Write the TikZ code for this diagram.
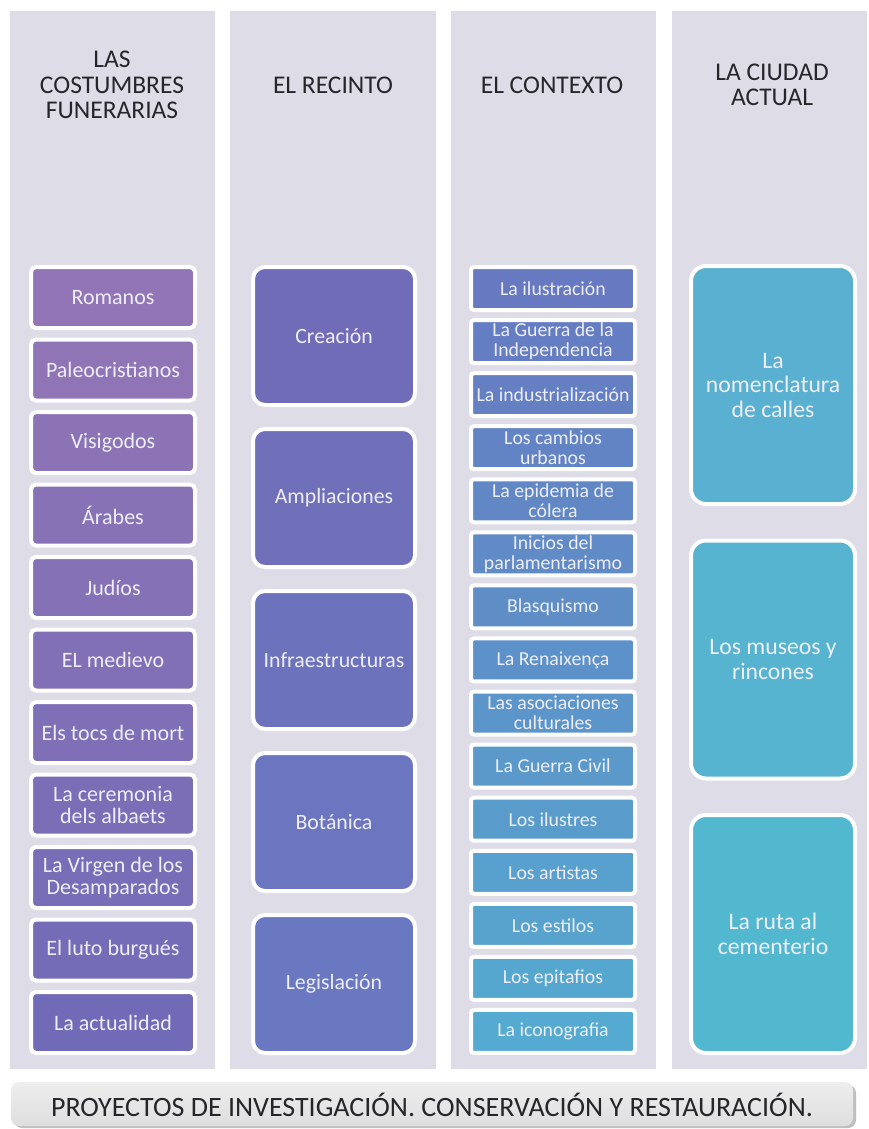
\documentclass[tikz,border=0pt]{standalone}
\usepackage{fontspec}
\setmainfont{Carlito}
\usetikzlibrary{positioning}

\definecolor{colbg}{RGB}{222,220,231}
\definecolor{boxtext}{RGB}{238,238,246}
\definecolor{headtext}{RGB}{38,38,42}
\definecolor{purA}{RGB}{146,117,182}
\definecolor{purB}{RGB}{113,107,183}
\definecolor{recA}{RGB}{112,108,184}
\definecolor{recB}{RGB}{106,120,193}
\definecolor{ctxA}{RGB}{103,121,193}
\definecolor{ctxB}{RGB}{84,170,208}
\definecolor{ciuA}{RGB}{89,176,208}
\definecolor{ciuB}{RGB}{82,184,208}
\definecolor{barTop}{RGB}{238,238,238}
\definecolor{barBot}{RGB}{222,222,222}

\begin{document}
\begin{tikzpicture}[x=1pt,y=-1pt,
    column/.style={fill=colbg,draw=none},
    head/.style={font=\fontsize{25.5}{25.5}\selectfont,align=center,text=headtext},
    item/.style={draw=white,line width=4pt,align=center,text=boxtext,inner sep=0pt},
    cosbox/.style={item,rounded corners=5pt,minimum width=164,minimum height=61,
      font=\fontsize{22}{22.5}\selectfont},
    recbox/.style={item,rounded corners=12pt,minimum width=162,minimum height=138,
      font=\fontsize{21.8}{23}\selectfont},
    ctxbox/.style={item,rounded corners=3pt,minimum width=164,minimum height=43,
      font=\fontsize{19.8}{20}\selectfont},
    ciubox/.style={item,rounded corners=15pt,minimum width=164,minimum height=238,
      font=\fontsize{23.7}{24.5}\selectfont}]
  \useasboundingbox (0,0) rectangle (869,1129);
  \fill[white] (0,0) rectangle (869,1129);

  % background columns
  \fill[column] (10,11) rectangle (215,1069);
  \fill[column] (230,11) rectangle (436,1069);
  \fill[column] (451,11) rectangle (656,1069);
  \fill[column] (672,11) rectangle (867,1069);

  % column titles
  \node[head] (hcos) at (112,85) {LAS\\COSTUMBRES\\FUNERARIAS};
  \node[head] (hrec) at (333,85) {EL RECINTO};
  \node[head] (hctx) at (552,85) {EL CONTEXTO};
  \node[head] (hciu) at (772,85) {LA CIUDAD\\ACTUAL};

  % las costumbres funerarias
  \foreach \txt [count=\i from 0] in {Romanos,Paleocristianos,Visigodos,Árabes,Judíos,
      EL medievo,Els tocs de mort,{La ceremonia\\dels albaets},{La Virgen de los\\Desamparados},
      El luto burgués,La actualidad}{
    \pgfmathtruncatemacro{\p}{100-10*\i}
    \node[cosbox,fill=purA!\p!purB] (cos\i) at (113,297.5+72.5*\i) {\txt};
  }

  % el recinto
  \foreach \txt [count=\i from 0] in {Creación,Ampliaciones,Infraestructuras,Botánica,Legislación}{
    \pgfmathtruncatemacro{\p}{100-25*\i}
    \node[recbox,fill=recA!\p!recB] (rec\i) at (334,336+162*\i) {\txt};
  }

  % el contexto
  \foreach \txt [count=\i from 0] in {La ilustración,{La Guerra de la\\Independencia},
      La industrialización,{Los cambios\\urbanos},{La epidemia de\\cólera},
      {Inicios del\\parlamentarismo},Blasquismo,La Renaixença,{Las asociaciones\\culturales},
      La Guerra Civil,Los ilustres,Los artistas,Los estilos,Los epitafios,La iconografia}{
    \pgfmathtruncatemacro{\p}{100-100*\i/14}
    \node[ctxbox,fill=ctxA!\p!ctxB] (ctx\i) at (553,288.5+53.07*\i) {\txt};
  }

  % la ciudad actual
  \foreach \txt [count=\i from 0] in {{La\\nomenclatura\\de calles},{Los museos y\\rincones},
      {La ruta al\\cementerio}}{
    \pgfmathtruncatemacro{\p}{100-50*\i}
    \node[ciubox,fill=ciuA!\p!ciuB] (ciu\i) at (773,385+274.5*\i) {\txt};
  }

  % bottom bar
  \fill[black!25,rounded corners=8pt] (14,1085) rectangle (856,1128);
  \shade[top color=barTop,bottom color=barBot,rounded corners=8pt] (11,1082) rectangle (853,1126);
  \node[font=\fontsize{28}{30}\selectfont,text=headtext] (bar) at (432,1105)
    {PROYECTOS DE INVESTIGACIÓN. CONSERVACIÓN Y RESTAURACIÓN.};
\end{tikzpicture}
\end{document}
